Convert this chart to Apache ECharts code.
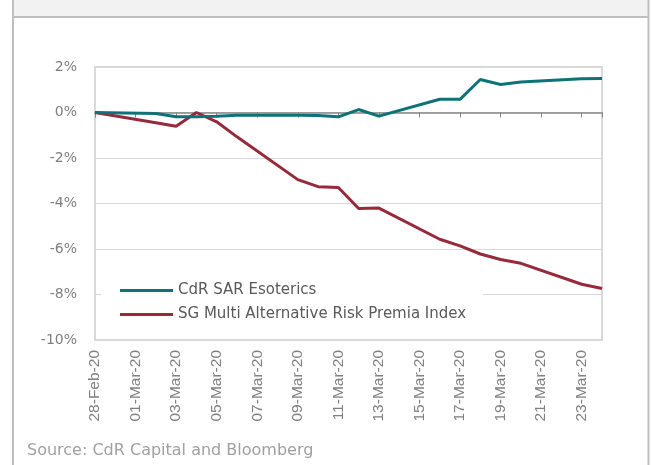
<!DOCTYPE html>
<html>
<head>
<meta charset="utf-8">
<script src="https://cdn.jsdelivr.net/npm/echarts@6/dist/echarts.min.js"></script>
<style>
html,body{margin:0;padding:0;background:#fff;}
#chart{width:651px;height:465px;}
</style>
</head>
<body>
<div id="chart"></div>
<script>
// Data
const dates = ['2020-02-28','2020-03-02','2020-03-03','2020-03-04','2020-03-05','2020-03-06',
  '2020-03-09','2020-03-10','2020-03-11','2020-03-12','2020-03-13','2020-03-16','2020-03-17',
  '2020-03-18','2020-03-19','2020-03-20','2020-03-23','2020-03-24'];
const cdrSAR = [0, -0.04, -0.19, -0.19, -0.17, -0.12, -0.12, -0.13, -0.19, 0.13, -0.16, 0.58, 0.58, 1.45, 1.23, 1.34, 1.48, 1.49];
const sgMARP = [0, -0.45, -0.6, 0, -0.41, -1.07, -2.95, -3.26, -3.3, -4.22, -4.2, -5.57, -5.86, -6.22, -6.46, -6.63, -7.55, -7.74];
const xTickLabels = ['28-Feb-20','01-Mar-20','03-Mar-20','05-Mar-20','07-Mar-20','09-Mar-20','11-Mar-20',
  '13-Mar-20','15-Mar-20','17-Mar-20','19-Mar-20','21-Mar-20','23-Mar-20'];
const seriesNames = ['CdR SAR Esoterics', 'SG Multi Alternative Risk Premia Index'];
const sourceText = 'Source: CdR Capital and Bloomberg';

const startDate = '2020-02-28';
const endDate = '2020-03-24';
const dayIdx = d => Math.round((Date.parse(d) - Date.parse(startDate)) / 86400000);
const xMax = dayIdx(endDate);

const chart = echarts.init(document.getElementById('chart'), null, {renderer: 'canvas'});
const font = 'DejaVu Sans';
chart.setOption({
  animation: false,
  backgroundColor: '#ffffff',
  graphic: [
    {type: 'rect', shape: {x: 13, y: 0, width: 636, height: 16}, style: {fill: '#f2f2f2'}, silent: true},
    {type: 'line', shape: {x1: 13, y1: 17, x2: 649, y2: 17}, style: {stroke: '#bfbfbf', lineWidth: 2}},
    {type: 'line', shape: {x1: 13, y1: 0, x2: 13, y2: 465}, style: {stroke: '#bfbfbf', lineWidth: 2}},
    {type: 'line', shape: {x1: 648.5, y1: 0, x2: 648.5, y2: 465}, style: {stroke: '#bfbfbf', lineWidth: 2}},
    {type: 'text', left: 27, top: 443, style: {text: sourceText, fill: '#a0a0a0', font: '16px "DejaVu Sans"'}}
  ],
  grid: {left: 95, right: 49, top: 67, bottom: 125, show: true, borderColor: '#d9d9d9', borderWidth: 2, containLabel: false},
  legend: {
    data: seriesNames,
    orient: 'vertical',
    left: 101, top: 273,
    padding: [10, 17, 12, 19],
    backgroundColor: '#ffffff',
    icon: 'rect', itemWidth: 53, itemHeight: 3, itemGap: 9,
    textStyle: {color: '#595959', fontSize: 15, fontFamily: font}
  },
  xAxis: [
    {
      type: 'value', min: 0, max: xMax, interval: 2,
      axisLine: {show: false, onZero: false}, axisTick: {show: false}, splitLine: {show: false},
      axisLabel: {
        rotate: 90, margin: 10, color: '#808080', fontSize: 15.5, fontFamily: 'Liberation Sans',
        formatter: v => (v % 2 === 0 && v / 2 < xTickLabels.length) ? xTickLabels[v / 2] : ''
      }
    },
    {
      type: 'value', min: 0, max: xMax, interval: 2, position: 'bottom',
      axisLine: {show: true, onZero: true, lineStyle: {color: '#868686', width: 1.5}},
      axisTick: {show: true, length: 5, lineStyle: {color: '#868686', width: 1}},
      axisLabel: {show: false}, splitLine: {show: false}
    }
  ],
  yAxis: {
    type: 'value', min: -10, max: 2, interval: 2,
    axisLine: {show: false}, axisTick: {show: false},
    splitLine: {lineStyle: {color: '#d9d9d9', width: 1}},
    axisLabel: {margin: 18, color: '#7f7f7f', fontSize: 14, fontFamily: font, formatter: v => v + '%'}
  },
  series: [
    {
      name: seriesNames[0], type: 'line', xAxisIndex: 0, symbol: 'none', z: 3,
      lineStyle: {color: '#0e7377', width: 3}, itemStyle: {color: '#0e7377'},
      data: dates.map((d, i) => [dayIdx(d), cdrSAR[i]])
    },
    {
      name: seriesNames[1], type: 'line', xAxisIndex: 0, symbol: 'none', z: 2,
      lineStyle: {color: '#962a3a', width: 3}, itemStyle: {color: '#962a3a'},
      data: dates.map((d, i) => [dayIdx(d), sgMARP[i]])
    }
  ]
});
</script>
</body>
</html>
